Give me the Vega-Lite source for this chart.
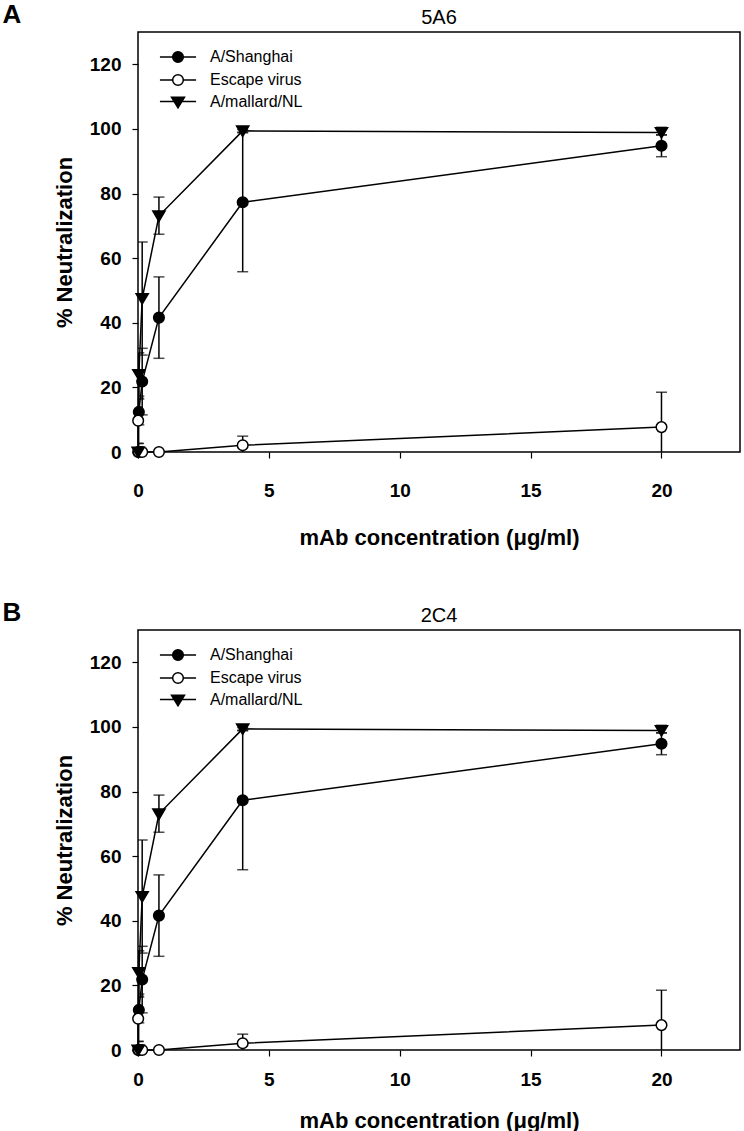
{
  "$schema": "https://vega.github.io/schema/vega-lite/v6.json",
  "padding": {"left": 2, "right": 0, "top": 2, "bottom": 0},
  "spacing": 51,
  "config": {
    "font": "Liberation Sans",
    "view": {"stroke": "black", "strokeWidth": 1.5},
    "axis": {"grid": false, "domain": false, "tickColor": "black", "tickWidth": 1.2, "tickSize": 6, "labelFlush": false,
      "labelFont": "Liberation Sans", "labelFontWeight": "bold", "labelFontSize": 19, "labelColor": "black",
      "titleFont": "Liberation Sans", "titleFontSize": 22, "titleFontWeight": "bold", "titleColor": "black"},
    "axisY": {"labelPadding": 11, "titlePadding": 13},
    "title": {"font": "Liberation Sans", "fontSize": 20, "fontWeight": "normal", "color": "black", "offset": 4},
    "legend": {"labelFont": "Liberation Sans", "labelFontSize": 16, "labelColor": "black", "symbolStrokeWidth": 1.5, "symbolSize": 113, "labelOffset": 24, "rowPadding": 5, "padding": 0}
  },
  "datasets": {
    "neut": [
      {"series": "A/Shanghai", "conc": 0.0064, "mean": 0, "lo": 0, "hi": 0},
      {"series": "A/Shanghai", "conc": 0.032, "mean": 12.4, "lo": 8.4, "hi": 16.4},
      {"series": "A/Shanghai", "conc": 0.16, "mean": 21.8, "lo": 11.5, "hi": 32.1},
      {"series": "A/Shanghai", "conc": 0.8, "mean": 41.6, "lo": 29.0, "hi": 54.2},
      {"series": "A/Shanghai", "conc": 4, "mean": 77.3, "lo": 55.8, "hi": 98.8},
      {"series": "A/Shanghai", "conc": 20, "mean": 94.8, "lo": 91.4, "hi": 98.2},
      {"series": "Escape virus", "conc": 0.0064, "mean": 9.7, "lo": 2.7, "hi": 16.7},
      {"series": "Escape virus", "conc": 0.032, "mean": 0, "lo": 0, "hi": 0},
      {"series": "Escape virus", "conc": 0.16, "mean": 0, "lo": 0, "hi": 0},
      {"series": "Escape virus", "conc": 0.8, "mean": 0, "lo": 0, "hi": 0},
      {"series": "Escape virus", "conc": 4, "mean": 2.1, "lo": -0.7, "hi": 4.9},
      {"series": "Escape virus", "conc": 20, "mean": 7.7, "lo": -3.1, "hi": 18.5},
      {"series": "A/mallard/NL", "conc": 0.0064, "mean": 0, "lo": -2.6, "hi": 2.6},
      {"series": "A/mallard/NL", "conc": 0.032, "mean": 24.0, "lo": 17.3, "hi": 30.7},
      {"series": "A/mallard/NL", "conc": 0.16, "mean": 47.5, "lo": 30.0, "hi": 65.0},
      {"series": "A/mallard/NL", "conc": 0.8, "mean": 73.1, "lo": 67.4, "hi": 78.9},
      {"series": "A/mallard/NL", "conc": 4, "mean": 99.4, "lo": 99.0, "hi": 99.8},
      {"series": "A/mallard/NL", "conc": 20, "mean": 98.9, "lo": 98.1, "hi": 100.5}
    ]
  },
  "vconcat": [
    {
      "title": {"text": "A", "anchor": "start", "fontSize": 26, "fontWeight": "bold", "dx": -50, "dy": 21, "offset": 0},
      "vconcat": [
        {
          "width": 602, "height": 420,
          "title": {"text": "5A6"},
          "data": {"name": "neut"},
          "encoding": {
            "x": {"field": "conc", "type": "quantitative", "title": "mAb concentration (μg/ml)",
              "scale": {"domain": [0, 23], "nice": false, "zero": false},
              "axis": {"values": [0, 5, 10, 15, 20], "format": "d", "labelPadding": 23, "titlePadding": 27}},
            "y": {"field": "mean", "type": "quantitative", "title": "% Neutralization",
              "scale": {"domain": [0, 130], "nice": false},
              "axis": {"values": [0, 20, 40, 60, 80, 100, 120], "format": "d"}}
          },
          "layer": [
            {"mark": {"type": "line", "color": "black", "strokeWidth": 1.5},
             "encoding": {"detail": {"field": "series"}, "order": {"field": "conc", "type": "quantitative"}}},
            {"mark": {"type": "rule", "color": "black", "strokeWidth": 1.5, "clip": true},
             "encoding": {"y": {"field": "lo", "type": "quantitative"}, "y2": {"field": "hi"}}},
            {"mark": {"type": "tick", "orient": "horizontal", "color": "black", "thickness": 1.5, "size": 11, "clip": true},
             "encoding": {"y": {"field": "lo", "type": "quantitative"}}},
            {"mark": {"type": "tick", "orient": "horizontal", "color": "black", "thickness": 1.5, "size": 11, "clip": true},
             "encoding": {"y": {"field": "hi", "type": "quantitative"}}},
            {"mark": {"type": "point", "filled": true, "stroke": "black", "strokeWidth": 1.5, "size": 113, "opacity": 1},
             "encoding": {
               "shape": {"field": "series", "type": "nominal", "legend": null,
                 "scale": {"domain": ["A/Shanghai", "Escape virus", "A/mallard/NL"], "range": ["circle", "circle", "M-1.15,-0.9L1.15,-0.9L0,1.05Z"]}},
               "fill": {"field": "series", "type": "nominal", "legend": null,
                 "scale": {"domain": ["A/Shanghai", "Escape virus", "A/mallard/NL"], "range": ["black", "white", "black"]}}
             }},
            {"transform": [{"filter": {"field": "conc", "lt": 0}}],
             "mark": {"type": "point", "filled": true, "strokeWidth": 1.5, "opacity": 1},
             "encoding": {
               "shape": {"field": "series", "type": "nominal",
                 "scale": {"domain": ["A/Shanghai", "Escape virus", "A/mallard/NL"], "range": [
                   "M-3.4,0H-1M1,0H3.4M-1,0A1,1,0,1,0,1,0A1,1,0,1,0,-1,0Z",
                   "M-3.4,0H-1M1,0H3.4M-1,0A1,1,0,1,0,1,0A1,1,0,1,0,-1,0Z",
                   "M-3.4,-0.1H3.4M-1.22,-0.9L1.22,-0.9L0,1.1Z"]},
                 "legend": {"title": null, "orient": "none", "legendX": 32, "legendY": 17}},
               "fill": {"field": "series", "type": "nominal",
                 "scale": {"domain": ["A/Shanghai", "Escape virus", "A/mallard/NL"], "range": ["black", "white", "black"]},
                 "legend": {"title": null, "orient": "none", "legendX": 32, "legendY": 17}},
               "stroke": {"field": "series", "type": "nominal",
                 "scale": {"domain": ["A/Shanghai", "Escape virus", "A/mallard/NL"], "range": ["black", "black", "black"]},
                 "legend": {"title": null, "orient": "none", "legendX": 32, "legendY": 17}}
             }}
          ],
          "resolve": {"scale": {"shape": "independent", "fill": "independent", "stroke": "independent"}}
        }
      ]
    },
    {
      "title": {"text": "B", "anchor": "start", "fontSize": 26, "fontWeight": "bold", "dx": -50, "dy": 21, "offset": 0},
      "vconcat": [
        {
          "width": 602, "height": 420,
          "title": {"text": "2C4"},
          "data": {"name": "neut"},
          "encoding": {
            "x": {"field": "conc", "type": "quantitative", "title": "mAb concentration (μg/ml)",
              "scale": {"domain": [0, 23], "nice": false, "zero": false},
              "axis": {"values": [0, 5, 10, 15, 20], "format": "d", "labelPadding": 14, "titlePadding": 21}},
            "y": {"field": "mean", "type": "quantitative", "title": "% Neutralization",
              "scale": {"domain": [0, 130], "nice": false},
              "axis": {"values": [0, 20, 40, 60, 80, 100, 120], "format": "d"}}
          },
          "layer": [
            {"mark": {"type": "line", "color": "black", "strokeWidth": 1.5},
             "encoding": {"detail": {"field": "series"}, "order": {"field": "conc", "type": "quantitative"}}},
            {"mark": {"type": "rule", "color": "black", "strokeWidth": 1.5, "clip": true},
             "encoding": {"y": {"field": "lo", "type": "quantitative"}, "y2": {"field": "hi"}}},
            {"mark": {"type": "tick", "orient": "horizontal", "color": "black", "thickness": 1.5, "size": 11, "clip": true},
             "encoding": {"y": {"field": "lo", "type": "quantitative"}}},
            {"mark": {"type": "tick", "orient": "horizontal", "color": "black", "thickness": 1.5, "size": 11, "clip": true},
             "encoding": {"y": {"field": "hi", "type": "quantitative"}}},
            {"mark": {"type": "point", "filled": true, "stroke": "black", "strokeWidth": 1.5, "size": 113, "opacity": 1},
             "encoding": {
               "shape": {"field": "series", "type": "nominal", "legend": null,
                 "scale": {"domain": ["A/Shanghai", "Escape virus", "A/mallard/NL"], "range": ["circle", "circle", "M-1.15,-0.9L1.15,-0.9L0,1.05Z"]}},
               "fill": {"field": "series", "type": "nominal", "legend": null,
                 "scale": {"domain": ["A/Shanghai", "Escape virus", "A/mallard/NL"], "range": ["black", "white", "black"]}}
             }},
            {"transform": [{"filter": {"field": "conc", "lt": 0}}],
             "mark": {"type": "point", "filled": true, "strokeWidth": 1.5, "opacity": 1},
             "encoding": {
               "shape": {"field": "series", "type": "nominal",
                 "scale": {"domain": ["A/Shanghai", "Escape virus", "A/mallard/NL"], "range": [
                   "M-3.4,0H-1M1,0H3.4M-1,0A1,1,0,1,0,1,0A1,1,0,1,0,-1,0Z",
                   "M-3.4,0H-1M1,0H3.4M-1,0A1,1,0,1,0,1,0A1,1,0,1,0,-1,0Z",
                   "M-3.4,-0.1H3.4M-1.22,-0.9L1.22,-0.9L0,1.1Z"]},
                 "legend": {"title": null, "orient": "none", "legendX": 32, "legendY": 17}},
               "fill": {"field": "series", "type": "nominal",
                 "scale": {"domain": ["A/Shanghai", "Escape virus", "A/mallard/NL"], "range": ["black", "white", "black"]},
                 "legend": {"title": null, "orient": "none", "legendX": 32, "legendY": 17}},
               "stroke": {"field": "series", "type": "nominal",
                 "scale": {"domain": ["A/Shanghai", "Escape virus", "A/mallard/NL"], "range": ["black", "black", "black"]},
                 "legend": {"title": null, "orient": "none", "legendX": 32, "legendY": 17}}
             }}
          ],
          "resolve": {"scale": {"shape": "independent", "fill": "independent", "stroke": "independent"}}
        }
      ]
    }
  ]
}
